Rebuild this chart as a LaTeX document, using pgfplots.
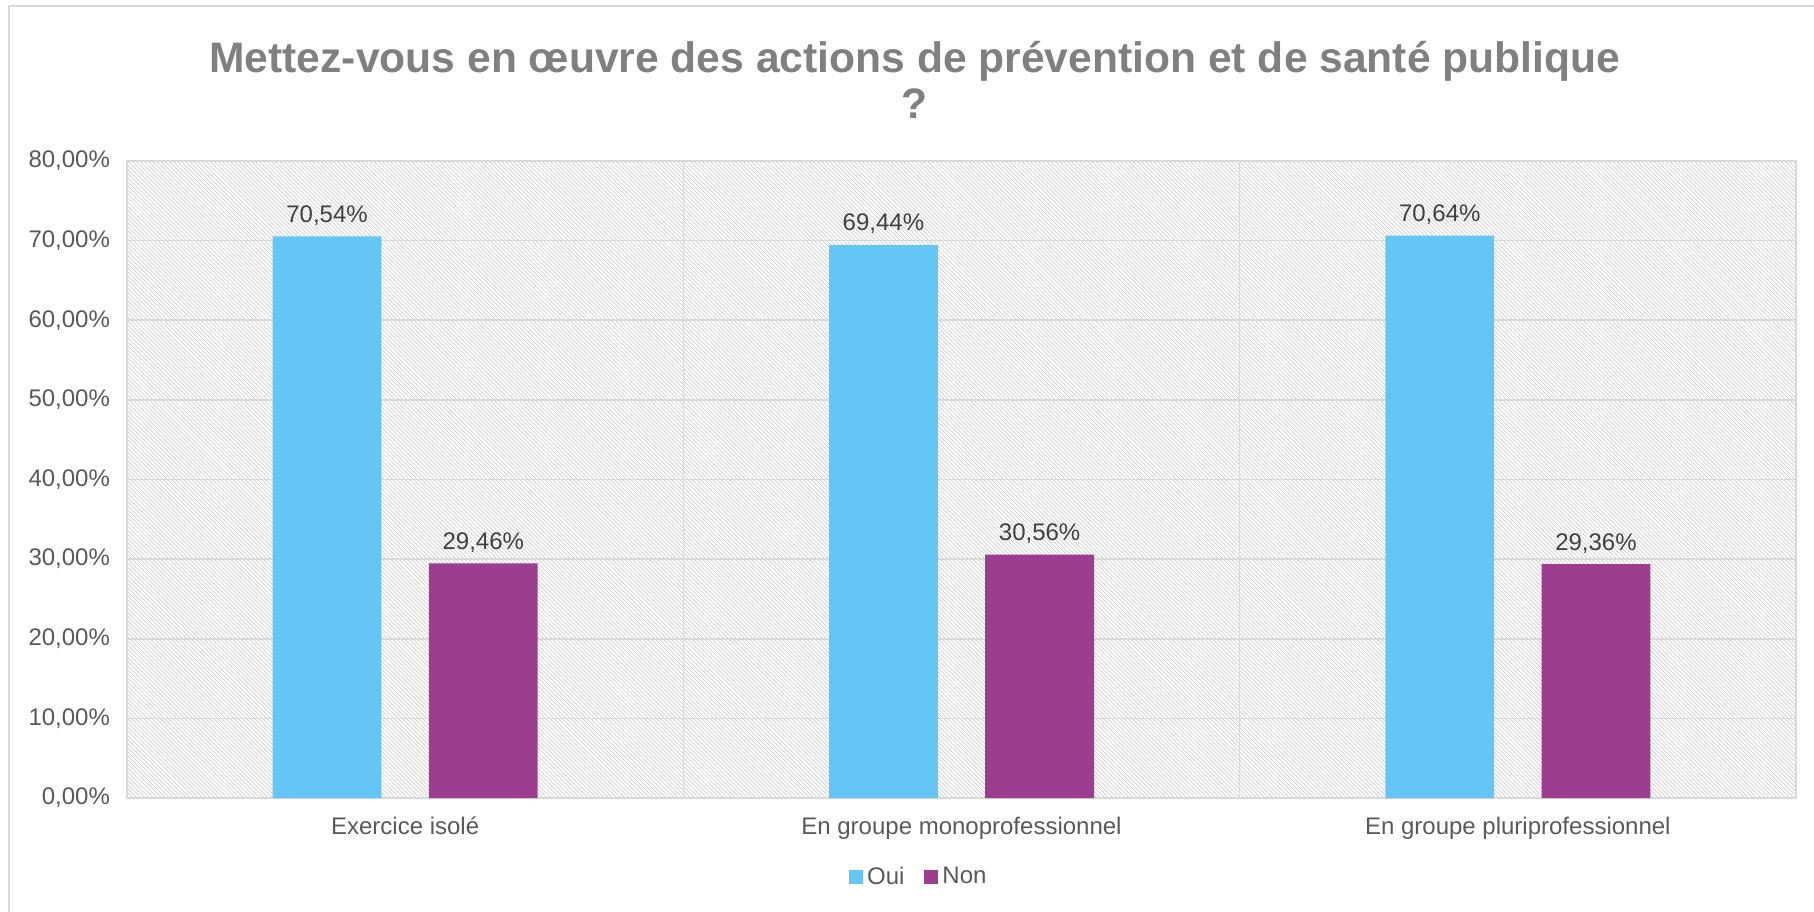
\documentclass[border=0pt]{standalone}
\usepackage{pgfplots}
\pgfplotsset{compat=1.18}
\usepackage{fontspec}
\setmainfont{Liberation Sans}
\usetikzlibrary{patterns.meta}
\definecolor{oui}{HTML}{64C6F6}
\definecolor{non}{HTML}{9D3D8F}
\definecolor{txt}{HTML}{595959}
\definecolor{gridc}{HTML}{D9D9D9}
\definecolor{hatch}{HTML}{CDCDCD}

\begin{document}
\begin{tikzpicture}
\useasboundingbox (-63.5pt,-56.5pt) rectangle (843.5pt,399pt);
\draw[gridc, line width=0.8pt] (-59pt,-60pt) -- (-59pt,396pt) -- (850pt,396pt);
\begin{axis}[
  scale only axis,
  width=834.5pt, height=318.5pt,
  ymin=0, ymax=80, ytick={0,10,...,80},
  xmin=-0.5, xmax=2.5,
  xtick={0,1,2},
  xticklabels={Exercice isolé, En groupe monoprofessionnel, En groupe pluriprofessionnel},
  extra x ticks={0.5,1.5},
  extra x tick labels={},
  extra x tick style={grid=major, major tick length=0pt},
  major tick length=0pt,
  ymajorgrids,
  grid style={gridc, line width=0.8pt},
  axis line style={gridc, line width=0.8pt},
  axis background/.style={pattern={Lines[angle=-45, distance=1.45pt, line width=0.35pt]}, pattern color=hatch},
  /pgf/number format/assume math mode=true,
  yticklabel={\pgfmathprintnumber[fixed, fixed zerofill, precision=2, use comma]{\tick}\%},
  tick label style={font=\fontsize{12}{14}\selectfont, text=txt},
  yticklabel style={xshift=-5pt},
  xticklabel style={yshift=-6pt},
  ybar=23.7pt, bar width=54.4pt,
  nodes near coords={\pgfmathprintnumber[fixed, fixed zerofill, precision=2, use comma]{\pgfplotspointmeta}\%},
  nodes near coords style={font=\fontsize{12}{14}\selectfont, text=black!75, anchor=south, yshift=2pt},
  legend style={at={(0.475,-0.124)}, anchor=center, draw=none, legend columns=2,
    font=\fontsize{12}{14}\selectfont, text=txt, /tikz/every even column/.append style={column sep=8pt}},
  legend image code/.code={\fill[#1] (0pt,-3.5pt) rectangle (7pt,3.5pt);},
  clip=false,
]
\addplot[draw=none, fill=oui] coordinates {(0,70.54) (1,69.44) (2,70.64)};
\addplot[draw=none, fill=non] coordinates {(0,29.46) (1,30.56) (2,29.36)};
\legend{Oui, Non}
\node[anchor=base, font=\bfseries\fontsize{21.3}{25}\selectfont, text=gray] at (axis description cs:0.472,{363/318.5}) {Mettez-vous en œuvre des actions de prévention et de santé publique};
\node[anchor=base, font=\bfseries\fontsize{21.3}{25}\selectfont, text=gray] at (axis description cs:0.472,{340/318.5}) {?};
\end{axis}
\end{tikzpicture}
\end{document}
